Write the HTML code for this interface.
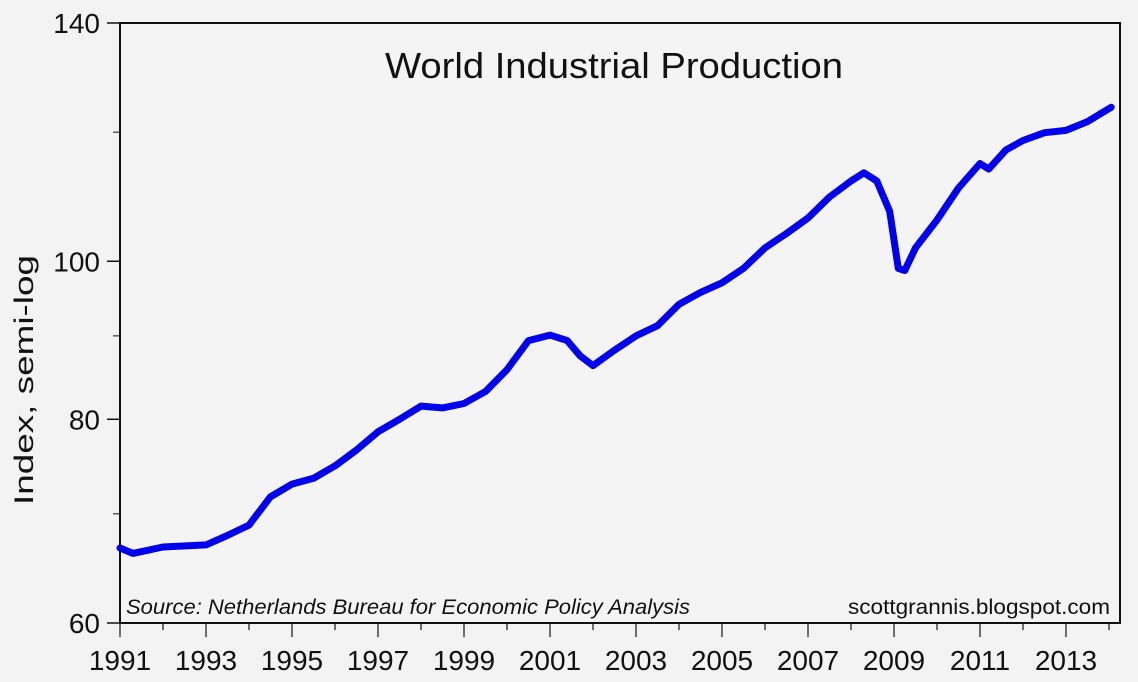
<!DOCTYPE html>
<html><head><meta charset="utf-8"><style>
body{margin:0;background:#f4f3f3;}
svg{display:block;font-family:"Liberation Sans",sans-serif;}
</style></head><body>
<svg id="chart" width="1138" height="682">
<rect width="1138" height="682" fill="#f4f3f3"/>
<rect x="120" y="23" width="1000" height="600" fill="#f5f4f4" stroke="#111" stroke-width="2"/>
<text x="385" y="78" font-size="36" textLength="458" lengthAdjust="spacingAndGlyphs" fill="#111">World Industrial Production</text>
<text transform="translate(33,505) rotate(-90)" font-size="27" textLength="250" lengthAdjust="spacingAndGlyphs" fill="#111">Index, semi-log</text>
<text x="126" y="614" font-size="21" font-style="italic" textLength="564" lengthAdjust="spacingAndGlyphs" fill="#111">Source: Netherlands Bureau for Economic Policy Analysis</text>
<text x="848" y="614" font-size="21" textLength="262" lengthAdjust="spacingAndGlyphs" fill="#111">scottgrannis.blogspot.com</text>
<g id="axes"></g>
<g id="series"></g>
</svg>
<script>
const years=[1991,1991.3,1992,1993,1993.5,1994,1994.5,1995,1995.5,1996,1996.5,1997,1997.5,1998,1998.5,1999,1999.5,2000,2000.5,2001,2001.4,2001.7,2002,2002.5,2003,2003.5,2004,2004.5,2005,2005.5,2006,2006.5,2007,2007.5,2008,2008.3,2008.6,2008.9,2009.1,2009.25,2009.5,2010,2010.5,2011,2011.2,2011.6,2012,2012.5,2013,2013.5,2014.05];
const values=[66.7,66.2,66.8,67.0,67.9,68.9,71.7,73.0,73.6,74.9,76.6,78.6,80.0,81.5,81.3,81.8,83.2,85.8,89.4,90.1,89.4,87.5,86.3,88.2,90.0,91.3,94.1,95.7,97.0,99.0,101.9,104.0,106.3,109.5,112.0,113.3,112.0,107.3,99.0,98.7,101.9,106.0,110.9,114.8,113.9,117.0,118.6,119.9,120.3,121.8,124.3];
const yTicks=[60,80,100,140];
const yMinor=[70,90,120];
const xLabels=[1991,1993,1995,1997,1999,2001,2003,2005,2007,2009,2011,2013];
const NS="http://www.w3.org/2000/svg";
const X0=120,X1=1120,Y0=623,Y1=23,YR0=1991,YR1=1991+1000/43,V0=60,V1=140;
function xs(t){return X0+(t-YR0)/(YR1-YR0)*(X1-X0);}
function ys(v){return Y0-(Math.log(v)-Math.log(V0))/(Math.log(V1)-Math.log(V0))*(Y0-Y1);}
function mk(tag,attrs,parent){const e=document.createElementNS(NS,tag);for(const k in attrs)e.setAttribute(k,attrs[k]);parent.appendChild(e);return e;}
const ax=document.getElementById('axes');
yTicks.forEach(v=>{
 const y=ys(v);
 const l=mk('line',{x1:107,x2:120,y1:y,y2:y,stroke:'#111','stroke-width':1.5},ax);
 
 
 const t=mk('text',{x:100,y:y+10,'font-size':28,'text-anchor':'end',fill:'#111'},ax);
 t.textContent=v;
 
 
});
yMinor.forEach(v=>{
 const y=ys(v);
 const l=mk('line',{x1:113,x2:120,y1:y,y2:y,stroke:'#111','stroke-width':1},ax);
 
 
});
for(let yr=1991;yr<=2014;yr++){
 const x=xs(yr);const major=(yr%2===1);
 const l=mk('line',{x1:x,x2:x,y1:623,y2:major?637:630,stroke:'#111','stroke-width':1.2},ax);
 
 
}
xLabels.forEach(yr=>{
 const t=mk('text',{x:xs(yr),y:670,'font-size':28,'text-anchor':'middle',fill:'#111'},ax);
 t.textContent=yr;
 
 
});
const d=years.map((t,i)=>(i?'L':'M')+xs(t).toFixed(1)+','+ys(values[i]).toFixed(1)).join('');
const p=mk('path',{d:d,fill:'none',stroke:'#0000ee','stroke-width':7,'stroke-linejoin':'round','stroke-linecap':'round'},document.getElementById('series'));


</script>
</body></html>
